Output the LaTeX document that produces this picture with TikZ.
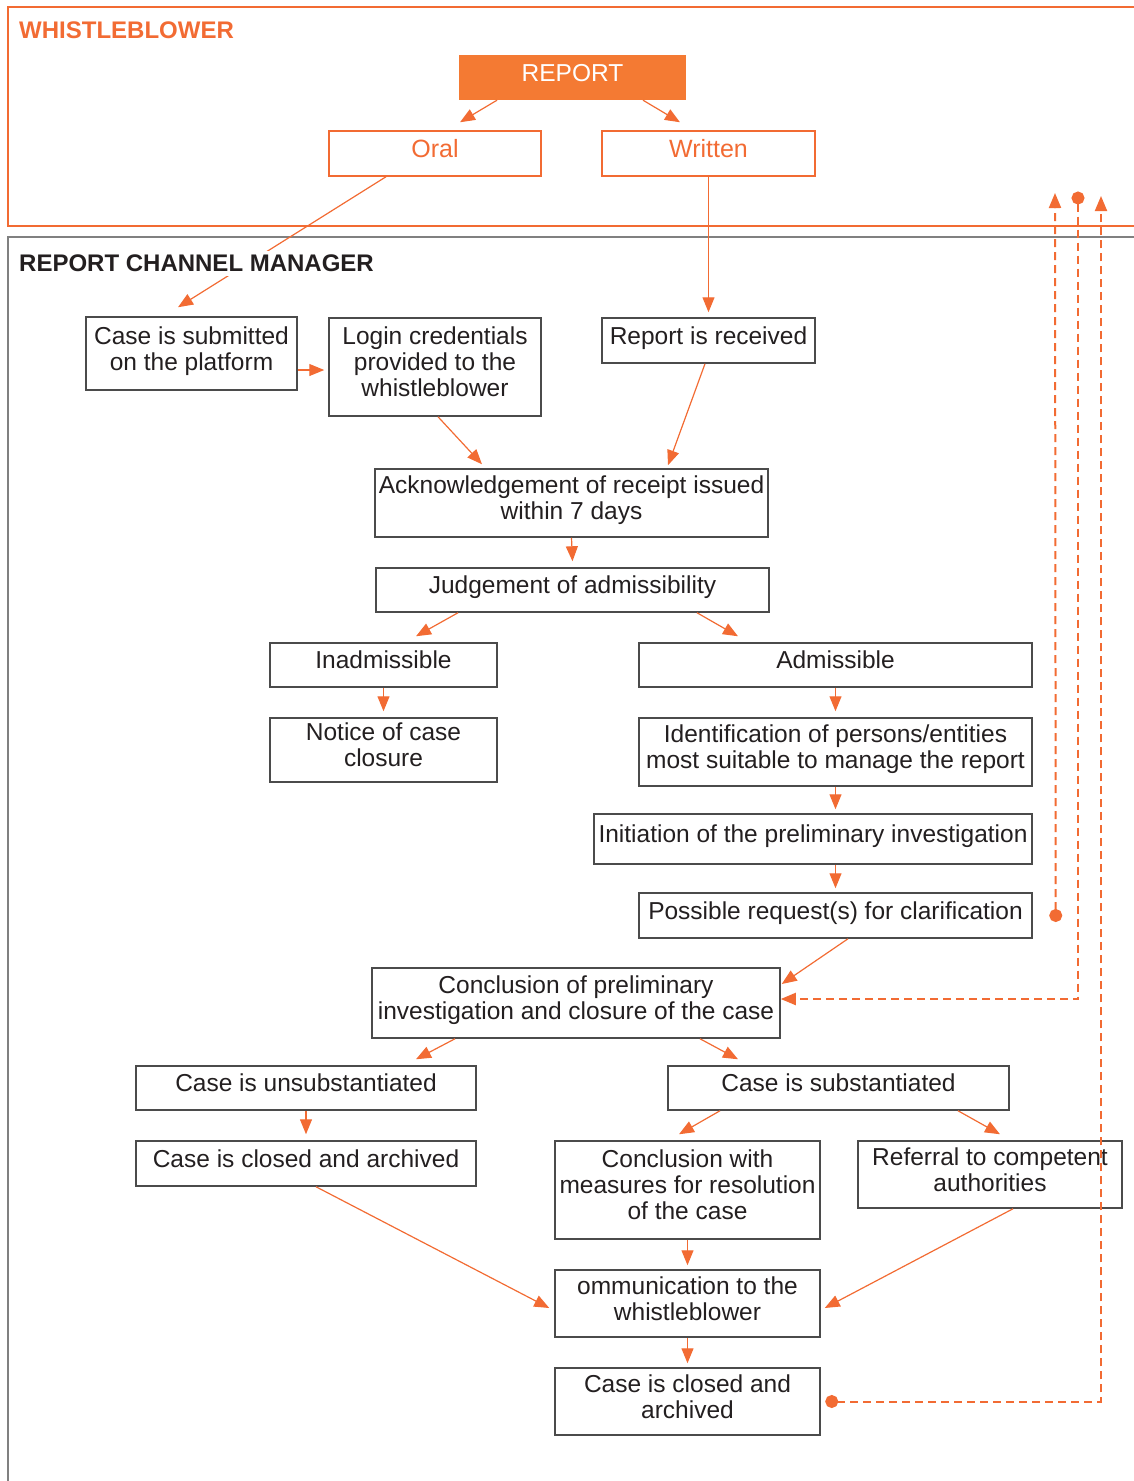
\documentclass[tikz,border=0pt]{standalone}
\usepackage{fontspec}
\setmainfont{Liberation Sans}
\usepackage{tikz}
\usetikzlibrary{arrows.meta,positioning,calc}

\definecolor{wbor}{RGB}{242,107,51}
\definecolor{wbfill}{RGB}{244,122,51}
\definecolor{txt}{RGB}{35,31,32}
\definecolor{bline}{RGB}{75,75,75}
\newcommand{\bodyfont}{\fontsize{24.5}{26}\selectfont}

\begin{document}
\begin{tikzpicture}[x=1pt,y=-1pt,
   							blk/.style={draw=bline,line width=1.5pt,align=center,text=txt,font=\bodyfont,inner sep=0pt,text depth=10pt},
   							chan/.style={draw=wbor,line width=1.5pt,text=wbor,font=\fontsize{25}{27}\selectfont,inner sep=0pt,text depth=10pt},
   							head/.style={fill=wbfill,text=white,font=\bodyfont,inner sep=0pt,text depth=10pt},
   							arr/.style={draw=wbor,line width=1.2pt,-{Triangle[length=15pt,width=12pt]}},
   							back/.style={draw=wbor,line width=2pt,dash pattern=on 8pt off 5pt}]
   						\useasboundingbox (0,0) rectangle (1134,1481);
   						% the two lanes
   						\draw [wbor,line width=2.5pt] (1145,7) -- (8,7) -- (8,226) -- (1145,226);
   						\draw [gray,line width=1.5pt] (1145,237) -- (8,237) -- (8,1490);
   						\node [anchor=west,text=wbor,font=\bfseries\fontsize{24}{26}\selectfont,inner sep=0pt] (wbtitle) at (19,30) {WHISTLEBLOWER};
   						\path   (572.5,77.5) 	node  	(report) [head,minimum width=227pt,minimum height=45pt] {REPORT}
   						        (435,153.5) 	node  	(oral) [chan,minimum width=212pt,minimum height=45pt] {Oral}
   						        (708.5,153.5) 	node  	(written) [chan,minimum width=213pt,minimum height=45pt] {Written};
   						\path   (191.5,353.5) 	node  	(submitted) [blk,minimum width=211pt,minimum height=73pt] {Case is submitted\\on the platform}
   						        (435,367) 	node  	(login) [blk,minimum width=212pt,minimum height=98pt] {Login credentials\\provided to the\\whistleblower}
   						        (708.5,340.5) 	node  	(received) [blk,minimum width=213pt,minimum height=45pt] {Report is received}
   						        (571.5,503) 	node  	(ack) [blk,minimum width=393pt,minimum height=68pt] {Acknowledgement of receipt issued\\within 7 days}
   						        (572.5,590) 	node  	(judge) [blk,minimum width=393pt,minimum height=44pt] {Judgement of admissibility}
   						        (383.5,665) 	node  	(inadm) [blk,minimum width=227pt,minimum height=44pt] {Inadmissible}
   						        (383.5,750) 	node  	(notice) [blk,minimum width=227pt,minimum height=64pt] {Notice of case\\closure}
   						        (835.5,665) 	node  	(adm) [blk,minimum width=393pt,minimum height=44pt] {Admissible}
   						        (835.5,752) 	node  	(ident) [blk,minimum width=393pt,minimum height=68pt] {Identification of persons/entities\\most suitable to manage the report}
   						        (813,839) 	node  	(init) [blk,minimum width=438pt,minimum height=50pt] {Initiation of the preliminary investigation}
   						        (835.5,915.5) 	node  	(request) [blk,minimum width=393pt,minimum height=45pt] {Possible request(s) for clarification}
   						        (576,1003) 	node  	(prelim) [blk,minimum width=408pt,minimum height=70pt] {Conclusion of preliminary\\investigation and closure of the case}
   						        (306,1088) 	node  	(unsub) [blk,minimum width=340pt,minimum height=44pt] {Case is unsubstantiated}
   						        (306,1163.5) 	node  	(closedl) [blk,minimum width=340pt,minimum height=45pt] {Case is closed and archived}
   						        (838.5,1088) 	node  	(subst) [blk,minimum width=341pt,minimum height=44pt] {Case is substantiated}
   						        (687.5,1190) 	node  	(measures) [blk,minimum width=265pt,minimum height=98pt] {Conclusion with\\measures for resolution\\of the case}
   						        (990,1174.5) 	node  	(referral) [blk,minimum width=264pt,minimum height=67pt] {Referral to competent\\authorities}
   						        (687.5,1303.5) 	node  	(comm) [blk,minimum width=265pt,minimum height=67pt] {ommunication to the\\whistleblower}
   						        (687.5,1401.5) 	node  	(closedf) [blk,minimum width=265pt,minimum height=67pt] {Case is closed and\\archived};
   						% flow
   						\draw [arr] ([xshift=-75.5pt]report.south) -- ([xshift=25pt,yshift=8pt]oral.north);
   						\draw [arr] ([xshift=70.5pt]report.south) -- ([xshift=-28.5pt,yshift=8pt]written.north);
   						\draw [arr] ([xshift=-49pt]oral.south) -- ([xshift=-13.5pt,yshift=9pt]submitted.north);
   						\node [anchor=west,text=txt,font=\bfseries\fontsize{24}{26}\selectfont,fill=white,inner xsep=1pt,inner ysep=4pt] (rcmtitle) at (18,263) {REPORT CHANNEL MANAGER};
   						\draw [arr] ([yshift=-16.5pt]submitted.east) -- ([xshift=-4pt,yshift=-3pt]login.west);
   						\draw [arr] (written.south) -- ([yshift=5pt]received.north);
   						\draw [arr] ([xshift=3pt]login.south) -- ([xshift=-89.5pt,yshift=4pt]ack.north);
   						\draw [arr] ([xshift=-3.5pt]received.south) -- ([xshift=96.5pt,yshift=3pt]ack.north);
   						\draw [arr] (ack.south) -- ([yshift=6pt]judge.north);
   						\draw [arr] ([xshift=-114.5pt]judge.south) -- ([xshift=32.5pt,yshift=6pt]inadm.north);
   						\draw [arr] ([xshift=124.5pt]judge.south) -- ([xshift=-97.5pt,yshift=6pt]adm.north);
   						\draw [arr] (inadm.south) -- ([yshift=6pt]notice.north);
   						\draw [arr] (adm.south) -- ([yshift=6pt]ident.north);
   						\draw [arr] (ident.south) -- ([xshift=22.5pt,yshift=4pt]init.north);
   						\draw [arr] ([xshift=22.5pt]init.south) -- ([yshift=4pt]request.north);
   						\draw [arr] ([xshift=12.5pt]request.south) -- ([xshift=1pt,yshift=19pt]prelim.east);
   						\draw [arr] ([xshift=-121pt]prelim.south) -- ([xshift=110pt,yshift=6pt]unsub.north);
   						\draw [arr] ([xshift=124pt]prelim.south) -- ([xshift=-100.5pt,yshift=6pt]subst.north);
   						\draw [arr] (unsub.south) -- ([yshift=6pt]closedl.north);
   						\draw [arr] ([xshift=-118.5pt]subst.south) -- ([xshift=-8.5pt,yshift=6pt]measures.north);
   						\draw [arr] ([xshift=119.5pt]subst.south) -- ([xshift=10pt,yshift=6pt]referral.north);
   						\draw [arr] (measures.south) -- ([yshift=4pt]comm.north);
   						\draw [arr] ([xshift=10pt]closedl.south) -- ([xshift=-5pt,yshift=-4.5pt]comm.west);
   						\draw [arr] ([xshift=23pt]referral.south) -- ([xshift=4pt,yshift=-4.5pt]comm.east);
   						\draw [arr] (comm.south) -- ([yshift=4pt]closedf.north);
   						% feedback to the whistleblower
   						\coordinate (upa) at (1055,193);
   						\coordinate (upb) at (1078,191.5);
   						\coordinate (upc) at (1101,196);
   						\draw [back,{Circle[length=13pt]}-{Triangle[length=15pt,width=12pt]}] ([xshift=23pt,yshift=-6.5pt]request.east) -- (upa);
   						\draw [back,{Circle[length=13pt]}-{Triangle[length=15pt,width=12pt]}] (upb) |- ([yshift=4pt]prelim.east);
   						\draw [back,{Circle[length=13pt]}-{Triangle[length=15pt,width=12pt]}] ([xshift=4.5pt]closedf.east) -| (upc);
   							\end{tikzpicture}
\end{document}
